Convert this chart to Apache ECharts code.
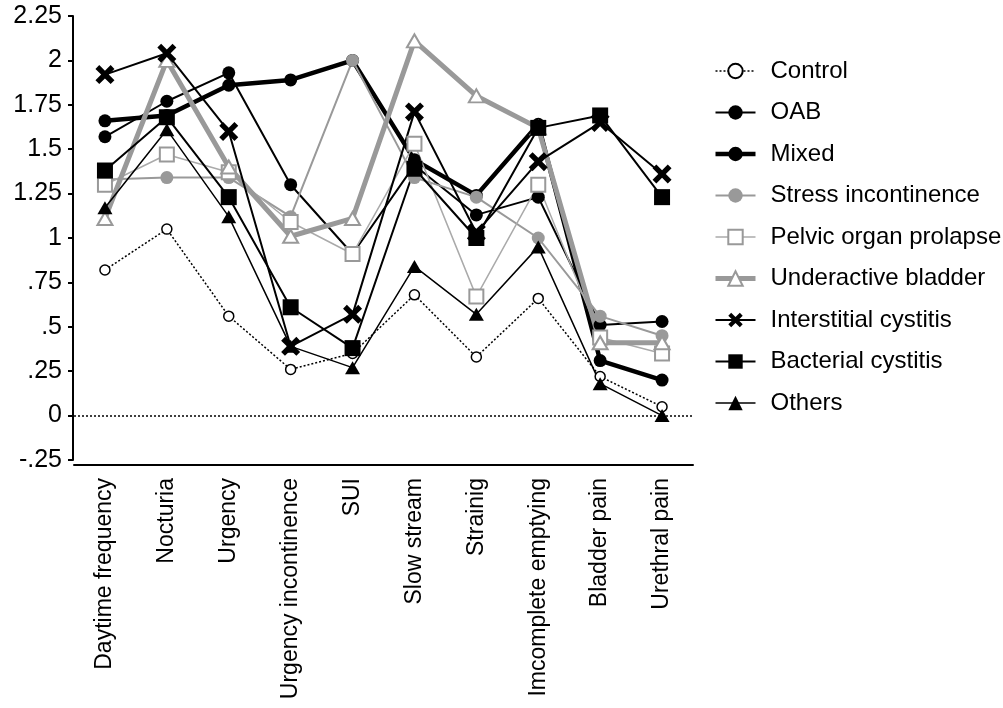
<!DOCTYPE html>
<html>
<head>
<meta charset="utf-8">
<script src="https://cdn.jsdelivr.net/npm/echarts@6/dist/echarts.min.js"></script>
<style>
  html, body { margin: 0; padding: 0; background: #fff; }
  #chart { width: 1003px; height: 708px; }
</style>
</head>
<body>
<div id="chart"></div>
<script>
const categories = ['Daytime frequency', 'Nocturia', 'Urgency', 'Urgency incontinence', 'SUI',
  'Slow stream', 'Strainig', 'Imcomplete emptying', 'Bladder pain', 'Urethral pain'];

const control = [0.82, 1.05, 0.56, 0.26, 0.35, 0.68, 0.33, 0.66, 0.22, 0.05];
const oab = [1.57, 1.77, 1.93, 1.30, 0.91, 1.41, 1.13, 1.23, 0.51, 0.53];
const mixed = [1.66, 1.69, 1.86, 1.89, 2.00, 1.44, 1.24, 1.64, 0.31, 0.20];
const stress = [1.33, 1.34, 1.34, 1.12, 2.00, 1.34, 1.23, 1.00, 0.56, 0.45];
const prolapse = [1.30, 1.47, 1.37, 1.09, 0.91, 1.53, 0.67, 1.30, 0.44, 0.35];
const underactive = [1.11, 2.00, 1.40, 1.01, 1.11, 2.11, 1.80, 1.62, 0.41, 0.41];
const interstitial = [1.92, 2.04, 1.60, 0.39, 0.57, 1.71, 1.03, 1.43, 1.65, 1.36];
const bacterial = [1.38, 1.68, 1.23, 0.61, 0.38, 1.39, 1.00, 1.62, 1.69, 1.23];
const others = [1.17, 1.61, 1.12, 0.39, 0.27, 0.84, 0.57, 0.95, 0.18, 0.00];

const font = 'Liberation Sans, Arial, sans-serif';
const gray = '#999999';
// thick X cross
const crossPath = 'path://M0,4 L4,0 L10,6 L16,0 L20,4 L14,10 L20,16 L16,20 L10,14 L4,20 L0,16 L6,10 Z';

let myChart = echarts.init(document.getElementById('chart'));

function line(name, data, symbol, size, lineStyle, itemStyle) {
    return {
        name: name,
        type: 'line',
        data: data,
        symbol: symbol,
        symbolSize: size,
        showSymbol: true,
        lineStyle: lineStyle,
        itemStyle: itemStyle,
        emphasis: { disabled: true }
    };
}

let series = [
    line('Control', control, 'circle', 10,
        { color: '#000', width: 1.5, type: [2, 2] },
        { color: '#fff', borderColor: '#000', borderWidth: 1.5 }),
    line('OAB', oab, 'circle', 13,
        { color: '#000', width: 2 },
        { color: '#000' }),
    line('Mixed', mixed, 'circle', 13,
        { color: '#000', width: 4.5 },
        { color: '#000' }),
    line('Stress incontinence', stress, 'circle', 13,
        { color: gray, width: 2 },
        { color: gray }),
    line('Pelvic organ prolapse', prolapse, 'rect', 14,
        { color: '#aaaaaa', width: 1.5 },
        { color: '#fff', borderColor: gray, borderWidth: 2 }),
    line('Underactive bladder', underactive, 'triangle', [15, 13],
        { color: gray, width: 5 },
        { color: '#fff', borderColor: gray, borderWidth: 2 }),
    line('Interstitial cystitis', interstitial, crossPath, 19,
        { color: '#000', width: 2 },
        { color: '#000' }),
    line('Bacterial cystitis', bacterial, 'rect', 16,
        { color: '#000', width: 2 },
        { color: '#000' }),
    line('Others', others, 'triangle', [15, 13],
        { color: '#000', width: 1.5 },
        { color: '#000' })
];

// dotted zero line
series[0].markLine = {
    silent: true,
    symbol: ['none', 'none'],
    label: { show: false },
    lineStyle: { color: '#000', width: 1.5, type: [2, 2] },
    emphasis: { disabled: true },
    data: [{ yAxis: 0 }]
};

let legendData = series.map(s => ({
    name: s.name,
    lineStyle: { width: s.lineStyle.width }
}));

let option = {
    animation: false,
    backgroundColor: '#fff',
    textStyle: { fontFamily: font, color: '#000' },
    grid: { left: 74, right: 310, top: 16, bottom: 248 },
    legend: {
        orient: 'vertical',
        left: 708,
        top: 54,
        itemWidth: 40,
        itemHeight: 18,
        itemGap: 17.5,
        selectedMode: false,
        textStyle: { fontFamily: font, fontSize: 24, color: '#000', lineHeight: 24, padding: [0, 0, 0, 10] },
        data: legendData
    },
    xAxis: {
        type: 'category',
        data: categories,
        offset: 5,
        axisLine: { onZero: false, lineStyle: { color: '#000', width: 2 } },
        axisTick: { inside: true, length: 3, alignWithLabel: true, lineStyle: { color: '#000', width: 1.5 } },
        axisLabel: { rotate: 90, margin: 13, fontSize: 23, color: '#000', fontFamily: font, interval: 0 },
        splitLine: { show: false }
    },
    yAxis: {
        type: 'value',
        min: -0.25,
        max: 2.25,
        interval: 0.25,
        offset: 1,
        axisLine: { show: true, lineStyle: { color: '#000', width: 2 } },
        axisTick: { show: true, length: 5, lineStyle: { color: '#000', width: 2 } },
        axisLabel: {
            margin: 11,
            fontSize: 25,
            color: '#000',
            fontFamily: font,
            formatter: (v) => String(+v.toFixed(2)).replace(/^(-?)0\./, '$1.')
        },
        splitLine: { show: false }
    },
    series: series
};

myChart.setOption(option);
</script>
</body>
</html>
